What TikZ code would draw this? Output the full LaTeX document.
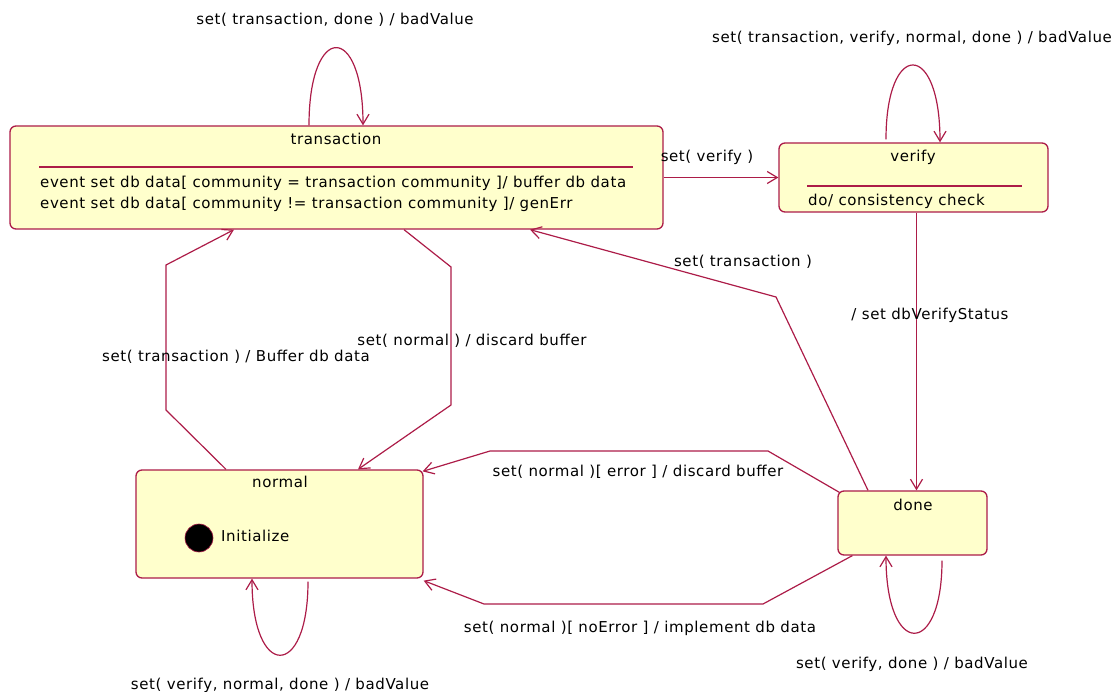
\documentclass[tikz,border=0pt]{standalone}
\usepackage{fontspec}
\setmainfont[LetterSpace=4]{DejaVu Sans}
\usetikzlibrary{arrows.meta,calc}
\definecolor{umlline}{RGB}{172,28,72}
\definecolor{umlfill}{RGB}{255,255,204}
\begin{document}
\begin{tikzpicture}[x=1pt,y=-1pt,
  font=\fontsize{15}{18}\selectfont,
  statebox/.style={rectangle, rounded corners=6pt,
    draw=umlline, fill=umlfill, line width=1.3pt, inner sep=0pt},
  txt/.style={inner sep=0pt, anchor=base},
  ltxt/.style={inner sep=0pt, anchor=base west},
  divider/.style={draw=umlline, line width=1.3pt},
  arr/.style={draw=umlline, line width=1.2pt,
    -{Straight Barb[length=10pt,width=12pt,line width=1.2pt]}}]

\useasboundingbox (0,0) rectangle (1117,692);

% states
\node[statebox, minimum width=653pt, minimum height=103pt] (tr) at (336.5,177.5) {};
\node[statebox, minimum width=269pt, minimum height=69pt] (vf) at (913.5,177.5) {};
\node[statebox, minimum width=287pt, minimum height=108pt] (nm) at (279.5,524) {};
\node[statebox, minimum width=149pt, minimum height=64pt] (dn) at (912.5,523) {};

% state compartments
\node[txt] (trname) at (336,145) {transaction};
\draw[divider] ($(tr.west)+(30,-10.5)$) -- ($(tr.east)+(-31,-10.5)$);
\node[ltxt] (trev1) at (40,188) {event set db data[ community = transaction community ]/ buffer db data};
\node[ltxt] (trev2) at (40,209) {event set db data[ community != transaction community ]/ genErr};

\node[txt] (vfname) at (913,162) {verify};
\draw[divider] ($(vf.west)+(29,8.5)$) -- ($(vf.east)+(-27,8.5)$);
\node[ltxt] (vfdo) at (808,206) {do/ consistency check};

\node[txt] (nmname) at (280,488) {normal};
\node[circle, fill=black, draw=umlline, line width=0.6pt, minimum size=28pt, inner sep=0pt] (init) at (199,538) {};
\node[ltxt] (initname) at (221,541) {Initialize};

\node[txt] (dnname) at (913,511) {done};

% self transitions
\draw[arr] ($(tr.north)+(-27.5,0)$) .. controls (309,22) and (363,22) .. ($(tr.north)+(26.5,0)$);
\node[txt] (l1) at (335,25) {set( transaction, done ) / badValue};

\draw[arr] ($(vf.north)+(-27.5,-3)$) .. controls (886,40) and (940,40) .. ($(vf.north)+(26.5,0)$);
\node[txt] (l2) at (912,43) {set( transaction, verify, normal, done ) / badValue};

\draw[arr] ($(nm.south)+(28.5,3)$) .. controls (308,680) and (252,680) .. ($(nm.south)+(-27.5,0)$);
\node[txt] (l3) at (280,689) {set( verify, normal, done ) / badValue};

\draw[arr] ($(dn.south)+(29.5,5)$) .. controls (942,658) and (886,658) .. ($(dn.south)+(-26.5,0)$);
\node[txt] (l4) at (912,668) {set( verify, done ) / badValue};

% transitions between states
\draw[arr] (tr.east) -- (vf.west);
\node[txt] (l5) at (707,162) {set( verify )};

\draw[arr] ($(vf.south)+(3,0)$) -- ($(dn.north)+(4,0)$);
\node[txt] (l6) at (930,320) {/ set dbVerifyStatus};

\draw[arr] ($(dn.north west)+(2,2)$) -- (768,451) -- (490,451) -- ($(nm.north east)+(-1,2)$);
\node[txt] (l8) at (638,477) {set( normal )[ error ] / discard buffer};

\draw[arr] ($(dn.north)+(-44.5,0)$) -- (776,297) -- ($(tr.south)+(193.5,0)$);
\node[txt] (l7) at (743,267) {set( transaction )};

\draw[arr] ($(dn.south west)+(15,0)$) -- (763,604) -- (484,604) -- ($(nm.south east)+(0,2)$);
\node[txt] (l9) at (640,632) {set( normal )[ noError ] / implement db data};

\draw[arr] ($(nm.north)+(-53.5,0)$) -- (166,410) -- (166,265) -- ($(tr.south)+(-102.5,0)$);
\node[txt] (l10) at (236,362) {set( transaction ) / Buffer db data};

\draw[arr] ($(tr.south)+(67.5,0)$) -- (451,267) -- (451,405) -- ($(nm.north)+(78.5,0)$);
\node[txt] (l11) at (472,346) {set( normal ) / discard buffer};

\end{tikzpicture}
\end{document}
